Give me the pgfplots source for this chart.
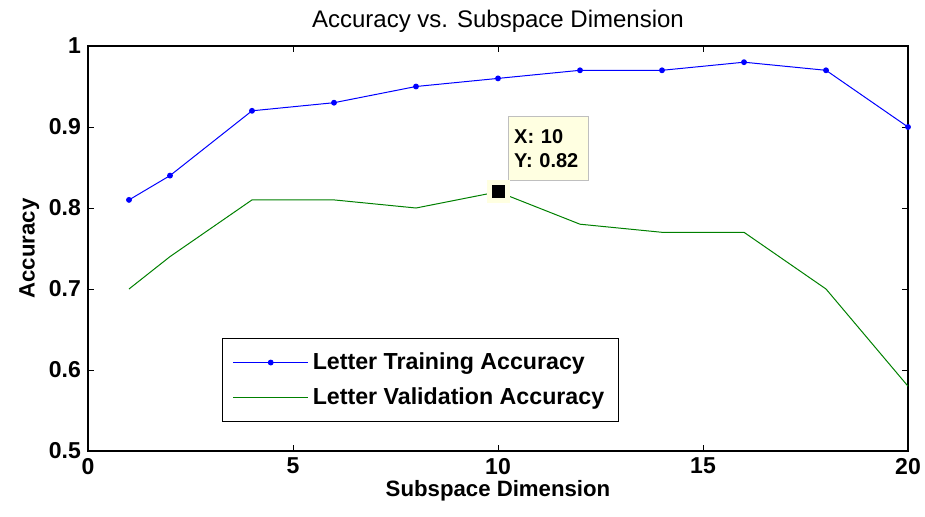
\documentclass[border=0pt]{standalone}
\usepackage{pgfplots}
\pgfplotsset{compat=1.18}
\usepackage{fontspec}
\setmainfont{Liberation Sans}
\definecolor{mblue}{RGB}{0,0,255}
\definecolor{mgreen}{RGB}{0,128,0}
\definecolor{tipbg}{RGB}{255,255,225}
\begin{document}
\begin{tikzpicture}
\begin{axis}[
  at={(0,0)}, anchor=south west,
  scale only axis, width=410pt, height=202.5pt,
  xmin=0, xmax=20, ymin=0.5, ymax=1,
  xtick={0,5,10,15,20},
  ytick={0.5,0.6,0.7,0.8,0.9,1},
  yticklabels={0.5,0.6,0.7,0.8,0.9,1},
  tick align=inside, tick pos=both,
  major tick length=3pt,
  /pgf/number format/assume math mode=true,
  tick label style={font=\fontsize{11.5}{13}\selectfont\bfseries},
  every tick/.style={black, line width=0.4pt},
  axis line style={line width=0.6pt},
  title={Accuracy vs. Subspace Dimension},
  title style={font=\fontsize{12}{14}\selectfont, yshift=-3pt},
  xlabel={Subspace Dimension},
  ylabel={Accuracy},
  label style={font=\fontsize{11.1}{13}\selectfont\bfseries},
  xlabel style={yshift=4pt},
  ylabel style={yshift=-2pt},
  legend style={at={(axis cs:3.27,0.536)}, anchor=south west, draw=black, line width=0.6pt,
    font=\fontsize{11.6}{14}\selectfont\bfseries, inner xsep=5pt, inner ysep=5pt, row sep=3.5pt},
  legend cell align=left,
  legend image code/.code={\draw[#1] (0cm,0cm) -- (1.32cm,0cm); \draw[#1, mark repeat=1] plot coordinates {(0.66cm,0cm)};},
]
\addplot[color=mblue, line width=0.5pt, mark=*, mark size=1.2pt] coordinates {
(1,0.81) (2,0.84) (4,0.92) (6,0.93) (8,0.95) (10,0.96) (12,0.97) (14,0.97) (16,0.98) (18,0.97) (20,0.90)};
\addlegendentry{Letter Training Accuracy}
\addplot[color=mgreen, line width=0.5pt, mark=none] coordinates {
(1,0.70) (2,0.74) (4,0.81) (6,0.81) (8,0.80) (10,0.82) (12,0.78) (14,0.77) (16,0.77) (18,0.70) (20,0.58)};
\addlegendentry{Letter Validation Accuracy}
\addplot[forget plot, only marks, mark=square*, mark size=5.5pt, mark options={draw=tipbg, fill=tipbg}] coordinates {(10,0.82)};
\addplot[forget plot, only marks, mark=square*, mark size=3pt, mark options={draw=black, fill=black}] coordinates {(10,0.82)};
\node[draw=black!25, fill=tipbg, anchor=south west, align=left, inner sep=3pt,
  minimum width=40pt, minimum height=32pt, text width=34pt,
  font=\fontsize{10}{12}\selectfont\bfseries] at (axis cs:10.24,0.8333) {X: 10\\Y: 0.82};
\end{axis}
\pgfresetboundingbox
\useasboundingbox (-44pt,-32.5pt) rectangle (418.5pt,225.5pt);
\end{tikzpicture}
\end{document}
